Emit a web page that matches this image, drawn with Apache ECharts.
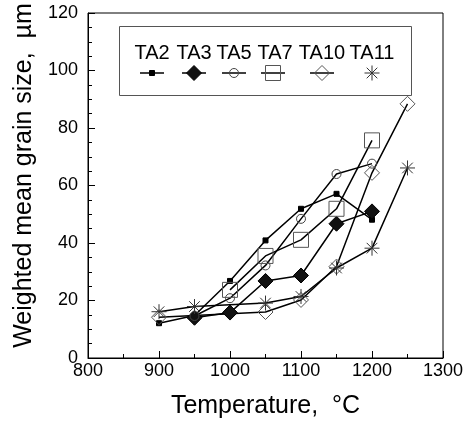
<!DOCTYPE html>
<html>
<head>
<meta charset="utf-8">
<script src="https://cdn.jsdelivr.net/npm/echarts@6/dist/echarts.min.js"></script>
<style>html,body{margin:0;padding:0;background:#fff}#c{width:470px;height:421px}</style>
</head>
<body>
<div id="c"></div>
<script>
// ---- data ----
var seriesNames = ['TA2', 'TA3', 'TA5', 'TA7', 'TA10', 'TA11'];
var TA2_T  = [900, 950, 1000, 1050, 1100, 1150, 1200];
var TA2_D  = [12.1, 14.8, 26.8, 40.9, 51.9, 57.1, 48.1];
var TA3_T  = [950, 1000, 1050, 1100, 1150, 1200];
var TA3_D  = [14.0, 15.8, 26.8, 28.7, 46.7, 51.0];
var TA5_T  = [950, 1000, 1050, 1100, 1150, 1200];
var TA5_D  = [14.6, 20.8, 32.2, 48.4, 64.0, 67.6];
var TA7_T  = [1000, 1050, 1100, 1150, 1200];
var TA7_D  = [23.7, 35.5, 41.1, 51.9, 75.7];
var TA10_T = [900, 1050, 1100, 1150, 1200, 1250];
var TA10_D = [14.2, 16.0, 20.2, 31.8, 64.4, 88.4];
var TA11_T = [900, 950, 1050, 1100, 1150, 1200, 1250];
var TA11_D = [16.1, 17.9, 19.1, 21.4, 31.3, 38.2, 66.1];
var xTicks = [800, 900, 1000, 1100, 1200, 1300];
var yTicks = [0, 20, 40, 60, 80, 100, 120];

function pairs(t, d) { return t.map(function (x, i) { return [x, d[i]]; }); }

var FONT = "'Liberation Sans', Arial, sans-serif";
var starPath = 'path://M5,0 L5,10 M0,5 L10,5 M1.46,1.46 L8.54,8.54 M8.54,1.46 L1.46,8.54';

var styles = {
  TA2:  { symbol: 'rect', size: 5, fill: '#000', stroke: '#000' },
  TA3:  { symbol: 'diamond', size: 15, fill: '#111', stroke: '#000' },
  TA5:  { symbol: 'circle', size: 9, fill: 'rgba(0,0,0,0)', stroke: '#444' },
  TA7:  { symbol: 'rect', size: 15, fill: 'rgba(0,0,0,0)', stroke: '#555' },
  TA10: { symbol: 'diamond', size: 15, fill: 'rgba(0,0,0,0)', stroke: '#555' },
  TA11: { symbol: starPath, size: 15, fill: 'rgba(0,0,0,0)', stroke: '#333' }
};
var dataMap = {
  TA2: pairs(TA2_T, TA2_D), TA3: pairs(TA3_T, TA3_D), TA5: pairs(TA5_T, TA5_D),
  TA7: pairs(TA7_T, TA7_D), TA10: pairs(TA10_T, TA10_D), TA11: pairs(TA11_T, TA11_D)
};

var series = seriesNames.map(function (n) {
  var s = styles[n];
  return {
    name: n, type: 'line', data: dataMap[n],
    symbol: s.symbol, symbolSize: s.size, showAllSymbol: true,
    lineStyle: { color: '#000', width: 1.5 },
    itemStyle: { color: s.fill, borderColor: s.stroke, borderWidth: 1 },
    z: 2, animation: false
  };
});

// ---- legend drawn with graphic elements ----
var legX = [152, 194, 234, 273, 322, 372];
var legTextX = [152, 194, 234, 275, 322, 372];
var g = [{
  type: 'rect', shape: { x: 119.5, y: 26.5, width: 292, height: 69 },
  style: { fill: 'none', stroke: '#555', lineWidth: 1 }
}];
seriesNames.forEach(function (n, i) {
  var cx = legX[i], cy = 73;
  g.push({ type: 'text', x: legTextX[i], y: 53,
    style: { text: n, font: '20px ' + FONT, fill: '#000', align: 'center', verticalAlign: 'middle' } });
  if (n !== 'TA11') {
    g.push({ type: 'line', shape: { x1: cx - 12, y1: cy, x2: cx + 12, y2: cy }, style: { stroke: '#000', lineWidth: 1.5 } });
  }
  var s = styles[n], h = s.size / 2;
  if (s.symbol === 'rect') {
    g.push({ type: 'rect', shape: { x: cx - h, y: cy - h, width: s.size, height: s.size },
      style: { fill: s.fill, stroke: s.stroke, lineWidth: 1 } });
  } else if (s.symbol === 'diamond') {
    g.push({ type: 'polygon', shape: { points: [[cx, cy - h], [cx + h, cy], [cx, cy + h], [cx - h, cy]] },
      style: { fill: s.fill, stroke: s.stroke, lineWidth: 1 } });
  } else if (s.symbol === 'circle') {
    g.push({ type: 'circle', shape: { cx: cx, cy: cy, r: h }, style: { fill: s.fill, stroke: s.stroke, lineWidth: 1 } });
  } else {
    var d = h * 0.707;
    [[0, -h, 0, h], [-h, 0, h, 0], [-d, -d, d, d], [d, -d, -d, d]].forEach(function (l) {
      g.push({ type: 'line', shape: { x1: cx + l[0], y1: cy + l[1], x2: cx + l[2], y2: cy + l[3] },
        style: { stroke: s.stroke, lineWidth: 1 } });
    });
  }
});

var chart = echarts.init(document.getElementById('c'), null, { renderer: 'canvas' });
chart.setOption({
  animation: false,
  backgroundColor: '#fff',
  textStyle: { fontFamily: FONT },
  grid: { left: 88, right: 27, top: 13, bottom: 63, show: true, borderColor: '#000', borderWidth: 1,
    backgroundColor: 'transparent', containLabel: false, outerBoundsMode: 'none' },
  xAxis: {
    type: 'value', min: xTicks[0], max: xTicks[xTicks.length - 1], interval: 100,
    name: 'Temperature,  °C', nameLocation: 'middle', nameGap: 36,
    nameTextStyle: { fontSize: 25, color: '#000', fontFamily: FONT },
    axisLine: { show: true, lineStyle: { color: '#000', width: 1 } },
    axisTick: { show: true, inside: true, length: 7, lineStyle: { color: '#000' } },
    minorTick: { show: true, splitNumber: 2, length: 4, lineStyle: { color: '#000' } },
    splitLine: { show: false },
    axisLabel: { fontSize: 18, color: '#000', margin: 4, fontFamily: FONT,
      formatter: function (v) { return String(v); } }
  },
  yAxis: {
    type: 'value', min: yTicks[0], max: yTicks[yTicks.length - 1], interval: 20,
    name: 'Weighted mean grain size,  µm', nameLocation: 'middle', nameGap: 44,
    nameTextStyle: { fontSize: 25, color: '#000', fontFamily: FONT, padding: [0, 0, 0, 20] },
    axisLine: { show: true, lineStyle: { color: '#000', width: 1 } },
    axisTick: { show: true, inside: true, length: 7, lineStyle: { color: '#000' } },
    minorTick: { show: true, splitNumber: 4, length: 4, lineStyle: { color: '#000' } },
    splitLine: { show: false },
    axisLabel: { fontSize: 18, color: '#000', margin: 10, fontFamily: FONT,
      formatter: function (v) { return String(v); } }
  },
  series: series,
  graphic: g
});
</script>
</body>
</html>
